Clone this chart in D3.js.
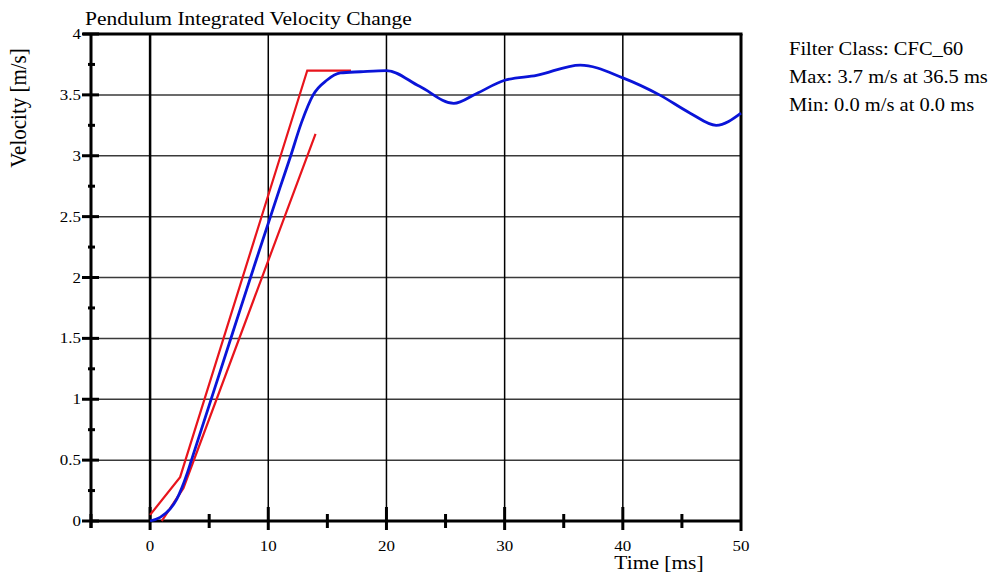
<!DOCTYPE html>
<html>
<head>
<meta charset="utf-8">
<script src="https://cdn.jsdelivr.net/npm/d3@7"></script>
<style>
  body { margin: 0; background: #fff; }
  svg { display: block; }
  text { font-family: "Liberation Serif", "Times New Roman", serif; fill: #000; }
</style>
</head>
<body>
<svg id="chart"></svg>
<script>
var width = 1004;
var height = 575;

// data
var timeMs = [0, 0.85, 1.7, 2.26, 2.68, 3.1, 3.5, 5, 7, 9, 11, 11.9, 12.8, 13.8, 14.95, 16.1, 17.8, 20, 22.8, 25.7, 27.6, 30, 32.7, 36.4, 40, 43.1, 45.7, 47.9, 50];
var velocity = [0, 0.03, 0.1, 0.18, 0.27, 0.38, 0.5, 0.95, 1.55, 2.15, 2.74, 3.0, 3.27, 3.5, 3.62, 3.68, 3.69, 3.7, 3.57, 3.43, 3.51, 3.62, 3.66, 3.745, 3.64, 3.5, 3.35, 3.25, 3.35];

var upperTime = [0, 2.54, 13.3, 17];
var upperVel = [0.05, 0.36, 3.7, 3.7];
var lowerTime = [0.99, 2.82, 14];
var lowerVel = [0, 0.27, 3.18];

var xMajorTicks = [0, 10, 20, 30, 40, 50];
var xMinorTicks = [-5, 5, 15, 25, 35, 45];
var yMajorTicks = [0, 0.5, 1, 1.5, 2, 2.5, 3, 3.5, 4];
var yMinorTicks = [0.25, 0.75, 1.25, 1.75, 2.25, 2.75, 3.25, 3.75];

var infoLines = ['Filter Class: CFC_60', 'Max: 3.7 m/s at 36.5 ms', 'Min: 0.0 m/s at 0.0 ms'];

var plot = {left: 91, right: 741, top: 34, bottom: 521};
var stretch = 1.13; // the reference text is a little wider than the font

var svg = d3.select('#chart')
  .attr('width', width)
  .attr('height', height);

var x = d3.scaleLinear().domain([-5, 50]).range([plot.left, plot.right]);
var y = d3.scaleLinear().domain([0, 4]).range([plot.bottom, plot.top]);

function place(px, py, s) {
  return 'translate(' + px + ',' + py + ') scale(' + (s || stretch) + ',1)';
}

// horizontal grid
svg.append('g')
  .selectAll('line')
  .data(yMajorTicks.filter(function(d) { return d > 0 && d < 4; }))
  .enter()
  .append('line')
  .attr('x1', plot.left).attr('x2', plot.right)
  .attr('y1', function(d) { return y(d); })
  .attr('y2', function(d) { return y(d); })
  .attr('stroke', '#3a3a3a')
  .attr('stroke-width', 1.5);

// vertical grid
svg.append('g')
  .selectAll('line')
  .data(xMajorTicks.filter(function(d) { return d < 50; }))
  .enter()
  .append('line')
  .attr('x1', function(d) { return x(d); })
  .attr('x2', function(d) { return x(d); })
  .attr('y1', plot.top).attr('y2', plot.bottom)
  .attr('stroke', '#000')
  .attr('stroke-width', function(d) { return d === 0 ? 2.5 : 1.5; });

// frame
svg.append('line')
  .attr('x1', plot.left - 8).attr('x2', plot.right + 1.5)
  .attr('y1', plot.top).attr('y2', plot.top)
  .attr('stroke', '#000').attr('stroke-width', 3);
svg.append('line')
  .attr('x1', plot.right).attr('x2', plot.right)
  .attr('y1', plot.top).attr('y2', plot.bottom + 10)
  .attr('stroke', '#000').attr('stroke-width', 3);

// y axis
var yAxis = svg.append('g');
yAxis.append('line')
  .attr('x1', plot.left).attr('x2', plot.left)
  .attr('y1', plot.top).attr('y2', plot.bottom + 7)
  .attr('stroke', '#000').attr('stroke-width', 3);
yAxis.selectAll('.ymaj')
  .data(yMajorTicks)
  .enter()
  .append('line')
  .attr('class', 'ymaj')
  .attr('x1', plot.left - 9).attr('x2', plot.left + 8)
  .attr('y1', function(d) { return y(d); })
  .attr('y2', function(d) { return y(d); })
  .attr('stroke', '#000').attr('stroke-width', 3);
yAxis.selectAll('.ymin')
  .data(yMinorTicks)
  .enter()
  .append('line')
  .attr('class', 'ymin')
  .attr('x1', plot.left - 3).attr('x2', plot.left + 4)
  .attr('y1', function(d) { return y(d); })
  .attr('y2', function(d) { return y(d); })
  .attr('stroke', '#000').attr('stroke-width', 3);
yAxis.selectAll('text')
  .data(yMajorTicks)
  .enter()
  .append('text')
  .attr('transform', function(d) { return place(plot.left - 10, y(d) + 5); })
  .attr('text-anchor', 'end')
  .style('font-size', '15px')
  .text(function(d) { return d; });

// x axis
var xAxis = svg.append('g');
xAxis.append('line')
  .attr('x1', plot.left).attr('x2', plot.right)
  .attr('y1', plot.bottom).attr('y2', plot.bottom)
  .attr('stroke', '#000').attr('stroke-width', 3);
xAxis.selectAll('.xmaj')
  .data(xMajorTicks.filter(function(d) { return d < 50; }))
  .enter()
  .append('line')
  .attr('class', 'xmaj')
  .attr('x1', function(d) { return x(d); })
  .attr('x2', function(d) { return x(d); })
  .attr('y1', plot.bottom - 14).attr('y2', plot.bottom + 9)
  .attr('stroke', '#000').attr('stroke-width', 3);
xAxis.selectAll('.xmin')
  .data(xMinorTicks)
  .enter()
  .append('line')
  .attr('class', 'xmin')
  .attr('x1', function(d) { return x(d); })
  .attr('x2', function(d) { return x(d); })
  .attr('y1', plot.bottom - 7).attr('y2', plot.bottom + 7)
  .attr('stroke', '#000').attr('stroke-width', 3);
xAxis.selectAll('text')
  .data(xMajorTicks)
  .enter()
  .append('text')
  .attr('transform', function(d) { return place(x(d), 551); })
  .attr('text-anchor', 'middle')
  .style('font-size', '15px')
  .text(function(d) { return d; });

// series
var line = d3.line()
  .x(function(d) { return x(d[0]); })
  .y(function(d) { return y(d[1]); });

svg.append('path')
  .datum(d3.zip(upperTime, upperVel))
  .attr('d', line)
  .attr('fill', 'none')
  .attr('stroke', '#e8141c')
  .attr('stroke-width', 2.2);

svg.append('path')
  .datum(d3.zip(lowerTime, lowerVel))
  .attr('d', line)
  .attr('fill', 'none')
  .attr('stroke', '#e8141c')
  .attr('stroke-width', 2.2);

svg.append('path')
  .datum(d3.zip(timeMs, velocity))
  .attr('d', line.curve(d3.curveMonotoneX))
  .attr('fill', 'none')
  .attr('stroke', '#0a14d8')
  .attr('stroke-width', 2.8);

// titles
svg.append('text')
  .attr('transform', place(85, 25))
  .style('font-size', '19px')
  .text('Pendulum Integrated Velocity Change');

svg.append('text')
  .attr('transform', 'translate(26, 108) scale(' + stretch + ',1) rotate(-90)')
  .attr('text-anchor', 'middle')
  .style('font-size', '21px')
  .text('Velocity [m/s]');

svg.append('text')
  .attr('transform', place(659, 569))
  .attr('text-anchor', 'middle')
  .style('font-size', '19px')
  .text('Time [ms]');

svg.append('g')
  .selectAll('text')
  .data(infoLines)
  .enter()
  .append('text')
  .attr('transform', function(d, i) { return place(789, 55 + i * 28, 1.08); })
  .style('font-size', '19px')
  .text(function(d) { return d; });
</script>
</body>
</html>
